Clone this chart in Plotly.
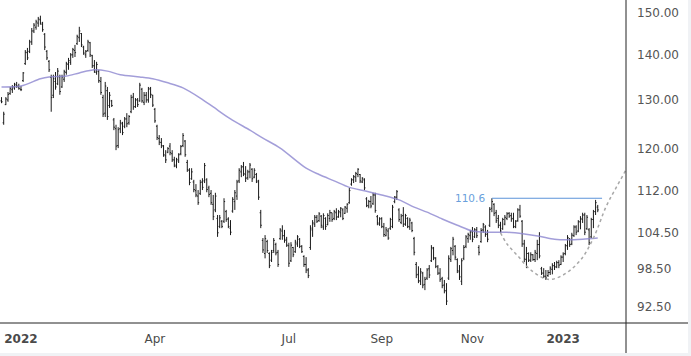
import math
import pandas as pd
import plotly.graph_objects as go

# ---------------- data ----------------
holidays = ["2021-12-24", "2022-01-17", "2022-02-21", "2022-04-15", "2022-05-30",
            "2022-06-20", "2022-07-04", "2022-09-05", "2022-11-24", "2022-12-26",
            "2023-01-02", "2023-01-16", "2023-02-20"]
first_day = "2021-12-20"

high = [
    130.6, 127.5, 130.6, 131.7, 132.8, 133.2, 133.7, 133.9, 133.5, 133.0,
    136.1, 141.1, 141.6, 143.5, 146.3, 147.5, 148.3, 149.0, 149.3, 147.8,
    145.1, 141.1, 138.8, 135.5, 135.5, 136.1, 137.0, 135.5, 135.5, 136.6,
    138.4, 139.3, 140.4, 141.6, 142.3, 144.7, 146.6, 145.1, 142.1, 141.1,
    143.5, 143.0, 140.0, 138.8, 138.4, 136.6, 135.0, 131.1, 133.9, 132.8,
    131.7, 130.0, 126.2, 124.8, 124.3, 125.8, 125.4, 126.4, 127.2, 126.8,
    131.1, 131.5, 130.4, 130.4, 133.7, 132.6, 131.7, 131.7, 132.8, 132.8,
    131.1, 128.3, 124.8, 122.7, 122.1, 120.7, 119.7, 120.3, 121.1, 119.7,
    118.4, 118.2, 119.1, 120.7, 123.1, 121.7, 117.8, 116.2, 116.2, 114.0,
    113.2, 112.1, 114.0, 114.3, 117.2, 114.3, 112.9, 112.1, 111.2, 111.6,
    107.6, 107.6, 106.7, 110.6, 108.5, 107.2, 106.7, 110.8, 112.1, 114.0,
    116.2, 116.8, 117.4, 116.6, 115.9, 117.2, 116.2, 116.2, 115.3, 114.0,
    108.5, 103.6, 104.1, 103.3, 101.2, 101.6, 103.6, 102.8, 101.6, 105.3,
    105.8, 105.0, 103.8, 102.8, 102.9, 102.1, 103.3, 104.1, 103.6, 102.4,
    100.7, 100.4, 98.6, 105.8, 106.7, 107.6, 107.6, 108.1, 107.6, 107.9,
    107.2, 107.9, 108.5, 108.0, 108.5, 108.8, 108.5, 109.0, 108.8, 109.2,
    109.7, 112.5, 114.3, 114.9, 115.5, 116.2, 115.1, 114.5, 114.3, 110.8,
    110.3, 111.0, 111.6, 111.6, 107.6, 107.2, 107.2, 106.2, 105.5, 105.3,
    107.1, 109.4, 111.0, 112.1, 108.8, 107.8, 109.0, 107.8, 107.2, 107.1,
    106.4, 103.8, 99.6, 98.9, 98.6, 98.0, 97.2, 98.6, 99.1, 102.4,
    102.1, 100.4, 99.1, 98.6, 97.2, 96.7, 96.2, 100.7, 102.1, 103.8,
    102.4, 100.2, 99.1, 100.2, 102.4, 104.1, 104.5, 105.0, 105.5, 105.3,
    105.5, 102.4, 105.3, 106.2, 105.8, 105.0, 109.0, 110.6, 109.7, 108.5,
    107.6, 106.4, 107.1, 107.6, 108.1, 108.1, 108.0, 108.0, 106.7, 108.8,
    109.4, 106.7, 103.3, 102.1, 101.2, 101.2, 100.9, 101.6, 103.3, 104.6,
    98.8, 98.6, 98.3, 98.3, 98.9, 99.4, 99.6, 99.8, 99.9, 100.7,
    101.2, 102.6, 104.1, 103.6, 104.5, 105.8, 105.8, 106.7, 107.4, 108.0,
    108.0, 107.6, 105.3, 107.1, 108.5, 110.3, 109.4,
]
low = [
    129.3, 124.8, 128.9, 129.6, 131.1, 131.5, 132.2, 132.6, 132.2, 131.9,
    133.9, 137.7, 138.8, 140.4, 142.3, 145.1, 145.9, 146.6, 147.1, 145.4,
    141.1, 138.8, 136.1, 127.5, 130.4, 132.2, 133.2, 131.1, 132.6, 133.9,
    135.5, 136.6, 137.7, 139.3, 139.5, 142.3, 143.0, 141.8, 140.0, 139.3,
    140.7, 139.5, 137.0, 135.9, 135.5, 133.7, 131.1, 126.4, 126.4, 125.8,
    128.3, 128.5, 123.7, 119.7, 120.1, 123.1, 122.7, 124.1, 124.3, 124.8,
    127.2, 127.9, 128.3, 128.5, 129.6, 129.4, 128.9, 129.4, 129.4, 130.4,
    128.5, 125.2, 121.7, 120.7, 120.1, 118.4, 117.2, 119.1, 118.7, 117.4,
    116.4, 116.2, 117.2, 118.7, 120.3, 118.4, 115.5, 113.0, 114.0, 111.7,
    110.8, 109.4, 111.2, 112.1, 113.4, 111.7, 110.8, 109.4, 106.7, 108.1,
    103.8, 105.3, 105.3, 106.2, 106.4, 105.3, 104.1, 108.0, 108.5, 110.3,
    113.4, 114.5, 114.7, 113.6, 114.0, 114.3, 113.6, 114.3, 113.4, 110.3,
    105.3, 101.1, 100.2, 101.1, 98.6, 99.6, 101.1, 100.7, 98.8, 103.3,
    103.3, 102.8, 102.1, 98.8, 99.6, 100.4, 101.1, 102.1, 101.9, 101.1,
    98.8, 97.8, 97.0, 101.6, 103.8, 105.5, 106.2, 106.4, 105.3, 105.0,
    105.0, 105.8, 106.4, 106.4, 106.7, 106.7, 107.1, 107.2, 106.7, 107.8,
    108.0, 109.6, 112.9, 113.4, 113.6, 114.5, 113.4, 113.4, 112.1, 109.0,
    108.8, 108.8, 109.4, 108.0, 105.8, 105.7, 105.3, 103.8, 103.9, 103.3,
    105.0, 105.3, 109.7, 110.3, 106.4, 106.0, 105.5, 105.7, 105.3, 105.0,
    104.6, 100.7, 97.0, 96.2, 95.9, 95.4, 95.1, 96.7, 97.0, 99.6,
    99.9, 98.6, 97.5, 96.4, 95.4, 94.6, 92.8, 96.7, 99.6, 100.7,
    99.9, 97.8, 96.7, 95.9, 99.9, 101.9, 102.8, 103.3, 102.9, 103.6,
    103.6, 100.7, 102.8, 104.5, 103.8, 102.9, 105.5, 108.1, 107.4, 106.2,
    105.3, 104.5, 105.0, 105.8, 106.7, 107.1, 106.4, 105.3, 105.3, 106.4,
    107.1, 102.1, 99.6, 98.6, 99.6, 99.6, 99.8, 99.6, 99.9, 100.2,
    97.5, 97.0, 96.7, 97.2, 97.5, 97.6, 98.3, 98.6, 98.6, 99.1,
    99.6, 100.7, 101.6, 102.1, 102.4, 103.8, 104.1, 104.6, 105.1, 106.2,
    104.1, 105.0, 102.4, 103.6, 105.3, 107.6, 108.1,
]
open_ = [
    129.8, 125.2, 129.0, 130.0, 131.4, 132.2, 132.6, 133.2, 132.8, 132.3,
    134.2, 138.0, 140.5, 140.8, 143.0, 145.6, 146.5, 147.5, 148.3, 147.2,
    144.8, 140.8, 138.5, 134.9, 131.0, 134.0, 133.5, 135.0, 132.8, 134.5,
    136.0, 137.8, 138.3, 140.0, 141.0, 142.6, 144.0, 145.0, 141.8, 140.0,
    141.0, 142.8, 139.8, 137.5, 136.0, 136.2, 134.0, 130.5, 127.2, 132.0,
    128.8, 129.8, 125.8, 124.0, 120.6, 124.0, 125.0, 124.5, 126.0, 125.2,
    127.5, 130.6, 128.6, 130.0, 129.8, 132.3, 129.5, 131.0, 130.0, 132.5,
    131.0, 128.0, 124.5, 122.0, 121.2, 120.5, 118.6, 119.3, 120.5, 119.0,
    117.8, 116.6, 117.6, 119.0, 120.6, 121.5, 117.3, 115.8, 114.2, 113.6,
    112.0, 111.0, 111.5, 113.6, 113.8, 114.0, 112.5, 111.5, 109.5, 108.5,
    107.0, 105.6, 106.5, 106.5, 108.2, 106.9, 105.3, 108.3, 110.0, 111.0,
    113.8, 115.5, 116.5, 115.0, 114.4, 115.5, 116.0, 114.5, 115.0, 113.6,
    108.0, 103.2, 101.0, 103.0, 101.0, 99.9, 101.5, 102.5, 101.2, 103.5,
    104.8, 104.0, 103.4, 102.3, 99.8, 102.0, 101.3, 102.6, 103.4, 102.2,
    100.5, 99.2, 98.3, 102.0, 105.0, 106.0, 107.2, 106.6, 107.4, 105.5,
    107.0, 105.9, 107.0, 108.0, 107.0, 108.0, 107.3, 108.0, 108.5, 107.9,
    108.8, 109.8, 113.2, 114.0, 114.5, 115.0, 115.0, 113.6, 114.0, 110.5,
    109.2, 110.0, 109.6, 111.2, 107.3, 106.0, 107.0, 105.5, 104.0, 104.8,
    105.3, 105.6, 110.0, 110.8, 108.5, 106.3, 107.5, 106.0, 107.0, 105.5,
    106.2, 103.5, 99.2, 97.6, 96.5, 97.8, 96.0, 97.0, 98.5, 99.8,
    101.8, 100.2, 98.8, 97.8, 96.9, 95.9, 95.0, 97.0, 100.0, 101.5,
    102.2, 100.0, 98.0, 96.5, 100.2, 102.2, 103.5, 104.0, 104.8, 103.8,
    105.0, 102.0, 103.0, 105.0, 105.5, 104.3, 105.8, 108.8, 109.5, 108.0,
    107.0, 105.8, 105.2, 106.0, 107.0, 107.9, 107.5, 107.0, 105.5, 106.6,
    108.5, 106.5, 102.6, 100.0, 101.0, 99.9, 100.8, 100.0, 101.0, 102.5,
    98.5, 97.8, 97.3, 97.4, 97.9, 98.4, 99.0, 98.8, 99.5, 99.2,
    100.4, 101.0, 102.3, 103.5, 102.6, 104.0, 105.5, 104.8, 106.4, 106.8,
    107.6, 105.2, 105.0, 103.8, 106.8, 108.2, 109.0,
]
close = [
    129.6, 127.0, 130.2, 131.2, 132.5, 132.9, 133.4, 133.0, 132.5, 132.2,
    135.9, 140.6, 139.3, 143.0, 145.6, 147.0, 147.8, 148.5, 147.5, 145.9,
    141.8, 139.3, 136.6, 130.5, 134.6, 132.8, 136.3, 131.8, 135.0, 136.2,
    138.0, 138.7, 140.0, 141.2, 140.5, 144.3, 145.6, 142.3, 140.4, 140.8,
    143.0, 140.0, 137.5, 136.3, 137.8, 134.2, 131.6, 127.0, 133.0, 126.5,
    131.0, 128.8, 124.3, 120.5, 123.8, 125.2, 123.2, 126.0, 125.0, 126.5,
    130.5, 128.5, 130.0, 129.0, 133.2, 129.8, 131.0, 130.0, 132.3, 131.2,
    128.9, 125.6, 122.2, 121.3, 120.6, 118.8, 117.8, 120.0, 119.2, 117.8,
    116.8, 117.9, 118.8, 120.4, 122.6, 118.8, 115.9, 113.5, 115.5, 112.2,
    111.2, 109.8, 113.5, 112.6, 116.7, 112.2, 111.3, 109.8, 107.3, 111.0,
    104.5, 107.1, 105.6, 110.0, 106.8, 105.6, 104.6, 110.4, 111.6, 113.6,
    115.8, 116.4, 115.2, 114.3, 115.5, 116.8, 114.2, 115.8, 113.8, 110.8,
    105.8, 101.6, 103.5, 101.5, 99.0, 101.2, 103.2, 101.1, 99.2, 105.0,
    104.0, 103.2, 102.4, 99.4, 102.4, 100.8, 102.9, 103.8, 102.2, 101.3,
    99.2, 98.3, 97.4, 105.3, 106.2, 107.2, 106.5, 107.8, 105.8, 107.5,
    105.6, 107.5, 108.0, 106.8, 108.2, 107.2, 108.2, 108.8, 107.0, 109.0,
    109.5, 112.0, 114.0, 114.6, 115.2, 116.0, 113.8, 114.3, 112.5, 109.3,
    110.0, 109.2, 111.2, 108.4, 106.2, 106.9, 105.6, 104.2, 105.0, 103.6,
    106.8, 109.0, 110.8, 111.8, 106.8, 107.4, 106.0, 107.5, 105.6, 106.7,
    104.9, 101.2, 97.5, 96.6, 98.0, 95.9, 96.8, 98.3, 97.5, 102.0,
    100.3, 98.9, 97.8, 96.8, 95.8, 95.0, 93.4, 100.2, 101.8, 103.4,
    100.4, 98.2, 97.2, 99.8, 102.0, 103.8, 104.2, 104.6, 103.4, 105.0,
    104.0, 101.2, 104.9, 105.9, 104.2, 103.4, 108.6, 110.0, 107.9, 106.6,
    105.8, 104.8, 106.8, 107.2, 107.8, 107.4, 106.9, 105.6, 106.5, 108.5,
    107.4, 102.6, 100.1, 101.0, 99.9, 100.8, 100.0, 101.2, 102.5, 100.6,
    97.8, 97.3, 97.0, 97.9, 98.6, 99.0, 98.8, 99.5, 99.1, 100.4,
    100.9, 102.3, 103.7, 102.5, 104.1, 105.5, 104.6, 106.4, 107.0, 107.6,
    104.6, 107.2, 102.8, 106.8, 108.2, 109.8, 108.5,
]

# moving average (read at sparse dates)
ma_dates = ["2021-12-20", "2022-01-03", "2022-01-14", "2022-01-21", "2022-02-02",
            "2022-02-10", "2022-02-22", "2022-03-02", "2022-03-10", "2022-03-23",
            "2022-03-31", "2022-04-11", "2022-04-21", "2022-05-03", "2022-05-11",
            "2022-05-23", "2022-06-06", "2022-06-14", "2022-06-27", "2022-07-14",
            "2022-07-22", "2022-08-02", "2022-08-11", "2022-08-23", "2022-09-01",
            "2022-09-14", "2022-09-23", "2022-10-03", "2022-10-12", "2022-10-21",
            "2022-11-01", "2022-11-11", "2022-11-23", "2022-12-06", "2022-12-15",
            "2022-12-27", "2023-01-05", "2023-01-17", "2023-01-26"]
ma_values = [132.8, 133.0, 134.6, 135.0, 135.2,
             135.9, 136.6, 136.3, 135.5, 135.0,
             134.6, 133.7, 132.6, 130.4, 128.5,
             126.0, 123.7, 122.1, 120.1, 116.2,
             115.0, 113.8, 112.6, 111.9, 111.2,
             110.3, 109.0, 108.1, 106.9, 105.8,
             104.8, 104.6, 104.6, 104.3, 103.9,
             103.4, 103.3, 103.4, 103.6]

# cup (dotted) curve
cup_dates = ["2022-11-18", "2022-11-23", "2022-12-01", "2022-12-09", "2022-12-21",
             "2023-01-03", "2023-01-13", "2023-01-24", "2023-02-01", "2023-02-08",
             "2023-02-14", "2023-02-16"]
cup_values = [104.5, 102.6, 100.6, 98.3, 96.8,
              97.5, 99.9, 103.6, 109.2, 112.9,
              115.9, 118.2]

# resistance line
res_level = 110.6
res_dates = ["2022-11-14", "2023-01-30"]
res_label = "110.6"

# axes
x_range = ["2021-12-17 07:00", "2023-02-14 02:00"]
y_range = [90.1, 153.2]
x_tickvals = ["2022-01-03", "2022-04-01", "2022-07-01", "2022-09-01", "2022-11-01", "2023-01-03"]
x_ticktext = ["<b>2022</b>", "Apr", "Jul", "Sep", "Nov", "<b>2023</b>"]
y_tickvals = [92.5, 98.5, 104.5, 112, 120, 130, 140, 150]
y_ticktext = ["92.50", "98.50", "104.50", "112.00", "120.00", "130.00", "140.00", "150.00"]

# ---------------- figure ----------------
n = min(len(high), len(low), len(open_), len(close))
dates = pd.bdate_range(first_day, periods=n, freq="C", holidays=holidays)

fig = go.Figure()

fig.add_trace(go.Ohlc(
    x=dates, open=open_[:n], high=high[:n], low=low[:n], close=close[:n],
    increasing=dict(line=dict(color="#1b1b1b", width=1)),
    decreasing=dict(line=dict(color="#1b1b1b", width=1)),
    tickwidth=0.5, hoverinfo="skip",
))

fig.add_trace(go.Scatter(
    x=ma_dates, y=ma_values, mode="lines",
    line=dict(color="rgba(140,134,208,0.8)", width=1.5, shape="spline", smoothing=0.8),
    hoverinfo="skip",
))

fig.add_trace(go.Scatter(
    x=cup_dates, y=cup_values, mode="lines",
    line=dict(color="#a8a8a8", width=1.5, dash="dot", shape="spline", smoothing=1.0),
    hoverinfo="skip",
))

fig.add_trace(go.Scatter(
    x=res_dates, y=[res_level, res_level], mode="lines",
    line=dict(color="#5b93d9", width=1.2),
    hoverinfo="skip",
))

fig.add_annotation(
    x=res_dates[0], y=math.log10(res_level), text=res_label,
    xref="x", yref="y", showarrow=False, xanchor="right", yanchor="middle",
    xshift=-5, font=dict(family="DejaVu Sans", size=10.5, color="#6a9fdc"),
)

# pane separators and outer frame
W_PLOT, H_PLOT = 626, 323
fig.add_shape(type="line", xref="paper", yref="paper",
              x0=1, x1=1, y0=1, y1=-(353 - H_PLOT) / H_PLOT,
              line=dict(color="#222222", width=1))
fig.add_shape(type="line", xref="paper", yref="paper",
              x0=0, x1=688 / W_PLOT, y0=0, y1=0,
              line=dict(color="#222222", width=1))
fig.add_shape(type="rect", xref="paper", yref="paper",
              x0=688 / W_PLOT, x1=1.2, y0=-0.2, y1=1.1,
              line=dict(width=0), fillcolor="#f0f2f5", layer="below")
fig.add_shape(type="rect", xref="paper", yref="paper",
              x0=-0.1, x1=1.2, y0=-0.2, y1=-(353 - H_PLOT) / H_PLOT,
              line=dict(width=0), fillcolor="#f0f2f5", layer="below")

fig.update_layout(
    width=691, height=356,
    margin=dict(l=0, r=65, t=0, b=33, pad=0),
    paper_bgcolor="white", plot_bgcolor="white",
    showlegend=False, hovermode=False,
    font=dict(family="DejaVu Sans", size=12, color="#4a4a4a"),
    xaxis=dict(
        type="date", range=x_range,
        rangebreaks=[dict(bounds=["sat", "mon"]), dict(values=holidays)],
        rangeslider=dict(visible=False),
        tickmode="array", tickvals=x_tickvals, ticktext=x_ticktext,
        showgrid=False, zeroline=False, showline=False, ticks="",
        ticklabelstandoff=7,
        tickfont=dict(family="DejaVu Sans", size=12, color="#4a4a4a"),
    ),
    yaxis=dict(
        type="log", side="right",
        range=[math.log10(y_range[0]), math.log10(y_range[1])],
        tickmode="array", tickvals=y_tickvals, ticktext=y_ticktext,
        showgrid=False, zeroline=False, showline=False, ticks="",
        ticklabelstandoff=10,
        tickfont=dict(family="DejaVu Sans", size=12, color="#555555"),
    ),
)

fig.write_html(
    "out.html",
    config={"displayModeBar": False},
    post_script="document.body.style.margin='0';document.body.style.padding='0';"
                "document.body.style.overflow='hidden';",
)
